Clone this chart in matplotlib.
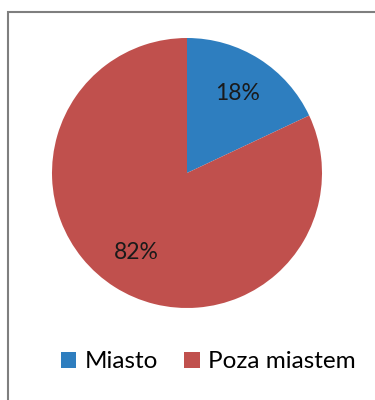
import matplotlib.pyplot as plt
from matplotlib.patches import Rectangle

labels = ['Miasto', 'Poza miastem']
values = [18, 82]
colors = ['#2E7EBF', '#C0504D']

plt.rcParams['font.family'] = ['Lato', 'DejaVu Sans']

fig = plt.figure(figsize=(3.75, 4), dpi=100)

# gray frame around the chart area (cut off at right and bottom)
fig.patches.append(Rectangle((8 / 375, -0.05), 1.0, (400 - 12) / 400 + 0.05,
                             transform=fig.transFigure, fill=False,
                             edgecolor='#7F7F7F', linewidth=1.5))

ax = fig.add_axes([(187 - 135) / 375, (400 - 308) / 400, 270 / 375, 270 / 400])
wedges, texts, autotexts = ax.pie(values, colors=colors, startangle=90, counterclock=False,
                                  autopct='%1.0f%%', pctdistance=0.7, radius=1,
                                  textprops={'fontsize': 16.5, 'color': '#1a1a1a'})
ax.set_xlim(-1, 1)
ax.set_ylim(-1, 1)
ax.set_aspect('equal')

fig.legend(wedges, labels, loc='center', bbox_to_anchor=(0.555, (400 - 362) / 400),
           ncol=2, frameon=False, fontsize=17.5, handlelength=0.63, handleheight=0.63,
           handletextpad=0.33, columnspacing=1.1, borderpad=0, borderaxespad=0)

fig.savefig('out.png', dpi=100)
